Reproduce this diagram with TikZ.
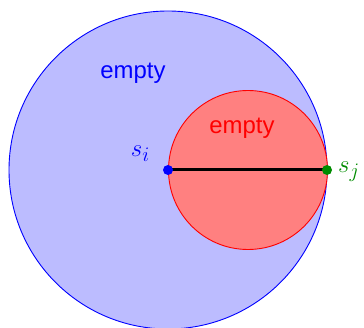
\documentclass[tikz,border=0pt]{standalone}
\usepackage{fontspec}
\setsansfont{Liberation Sans}
\definecolor{bigfill}{RGB}{188,188,255}
\definecolor{smallfill}{RGB}{255,128,128}
\definecolor{dkgreen}{RGB}{0,140,0}
\begin{document}
\begin{tikzpicture}[x=1bp, y=1bp, line join=round, line cap=round,
  lbl/.style={font=\sffamily\fontsize{24}{28}\selectfont},
  pt/.style={font=\fontsize{30}{34}\selectfont}]
			\useasboundingbox (0,0) rectangle (364,328);
			\path
			(168,158) coordinate (O)
			(248,158) coordinate (M)
			(168,158) coordinate (si)
			(327,158) coordinate (sj)
			;
			\begin{scope}
			\clip (0,0) rectangle (364,328);
			\draw[blue, fill=bigfill, line width=0.9bp] (O) circle (159);
			\end{scope}
			\draw[red, fill=smallfill, line width=0.9bp] (M) circle (79.5);
			\draw[black, line width=3bp] (si)--(sj);
			\node[lbl, text=blue] (emptyO) at (133,255) {empty};
			\node[lbl, text=red] (emptyM) at (242,200) {empty};
			\foreach \p/\c/\g/\d/\t in {si/blue/150/32/i,sj/dkgreen/-5/22/j}
			\fill[\c] (\p) circle (5) +(\g:\d) node[pt, text=\c] (lbl\p) {$s_\t$};
		\end{tikzpicture}
\end{document}
